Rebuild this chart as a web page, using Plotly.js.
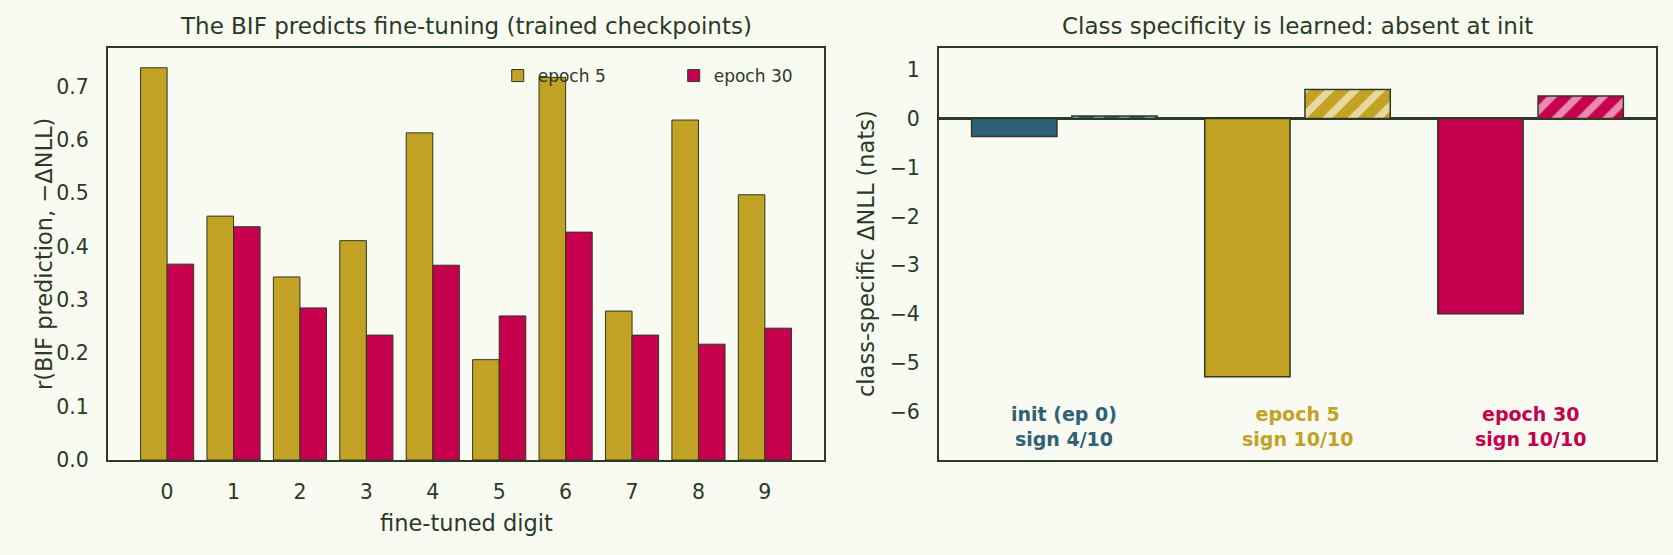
<!DOCTYPE html>
<html>
<head>
<meta charset="utf-8">
<script src="https://cdn.plot.ly/plotly-3.0.1.min.js"></script>
<style>
  html, body { margin: 0; padding: 0; background: #F9FAF1; }
  #chart { width: 1673px; height: 555px; }
</style>
</head>
<body>
<div id="chart"></div>
<script>
// ---- data ----
const digits = [0, 1, 2, 3, 4, 5, 6, 7, 8, 9];
const epoch5 = [0.735, 0.457, 0.343, 0.411, 0.613, 0.188, 0.717, 0.279, 0.637, 0.497];
const epoch30 = [0.367, 0.437, 0.285, 0.234, 0.365, 0.270, 0.427, 0.234, 0.217, 0.247];

const stages = ["init (ep 0)", "epoch 5", "epoch 30"];
const signLabels = ["sign 4/10", "sign 10/10", "sign 10/10"];
const solidValues = [-0.37, -5.28, -3.99];
const hatchedValues = [0.05, 0.59, 0.46];

// ---- style ----
const BG = "#F9FAF1";
const INK = "#2B3A27";
const EDGE = "#2A3A24";
const GOLD = "#C1A224";
const CRIMSON = "#C6004F";
const TEAL = "#2D6276";
const stageColors = [TEAL, GOLD, CRIMSON];
const stripeColors = ["#93AEB8", "#E8D8A0", "#EB8AB0"];
const FONT = "DejaVu Sans";

const traces = [
  {
    type: "bar", x: digits, y: epoch5, name: "epoch 5",
    xaxis: "x", yaxis: "y",
    marker: { color: GOLD, line: { color: EDGE, width: 1 } },
    width: 0.4, offset: -0.4,
    hoverinfo: "skip"
  },
  {
    type: "bar", x: digits, y: epoch30, name: "epoch 30",
    xaxis: "x", yaxis: "y",
    marker: { color: CRIMSON, line: { color: EDGE, width: 1 } },
    width: 0.4, offset: 0,
    hoverinfo: "skip"
  },
  {
    type: "bar", x: [0, 1, 2], y: solidValues, showlegend: false,
    xaxis: "x2", yaxis: "y2",
    marker: { color: stageColors, line: { color: EDGE, width: 1.5 } },
    width: 0.366, offset: -0.398,
    hoverinfo: "skip"
  }
];
hatchedValues.forEach((v, i) => {
  traces.push({
    type: "bar", x: [i], y: [v], showlegend: false,
    xaxis: "x2", yaxis: "y2",
    marker: {
      color: stageColors[i],
      line: { color: EDGE, width: 1.5 },
      pattern: { shape: "/", fgcolor: stripeColors[i], fgopacity: 1, size: 18, solidity: 0.4, fillmode: "overlay" }
    },
    width: 0.366, offset: 0.032,
    hoverinfo: "skip"
  });
});

const annotations = [
  { text: "The BIF predicts fine-tuning (trained checkpoints)", xref: "paper", yref: "paper",
    x: 0.2786, y: 0.954, xanchor: "center", yanchor: "middle", showarrow: false,
    font: { family: FONT, size: 23, color: INK } },
  { text: "Class specificity is learned: absent at init", xref: "paper", yref: "paper",
    x: 0.7755, y: 0.954, xanchor: "center", yanchor: "middle", showarrow: false,
    font: { family: FONT, size: 23, color: INK } },
  { text: "fine-tuned digit", xref: "paper", yref: "paper",
    x: 0.2786, y: (555 - 523) / 555, xanchor: "center", yanchor: "middle", showarrow: false,
    font: { family: FONT, size: 22.5, color: INK } },
  { text: "r(BIF prediction, −ΔNLL)", xref: "paper", yref: "paper", textangle: -90,
    x: 44 / 1673, y: (555 - 254) / 555, xanchor: "center", yanchor: "middle", showarrow: false,
    font: { family: FONT, size: 22.5, color: INK } },
  { text: "class-specific ΔNLL (nats)", xref: "paper", yref: "paper", textangle: -90,
    x: 866 / 1673, y: (555 - 254) / 555, xanchor: "center", yanchor: "middle", showarrow: false,
    font: { family: FONT, size: 22.5, color: INK } }
];
stages.forEach((s, i) => {
  annotations.push({
    text: "<b>" + s + "<br>" + signLabels[i] + "</b>", xref: "x2", yref: "y2",
    x: i, y: -6.3, xanchor: "center", yanchor: "middle", showarrow: false, align: "center",
    font: { family: FONT, size: 19, color: stageColors[i] }
  });
});

const axisCommon = {
  showline: true, mirror: true, linecolor: EDGE, linewidth: 2,
  showgrid: false, zeroline: false, ticks: "",
  tickfont: { family: FONT, size: 20.5, color: INK }
};

const layout = {
  width: 1673, height: 555,
  paper_bgcolor: BG, plot_bgcolor: BG,
  margin: { l: 0, r: 0, t: 0, b: 0 },
  font: { family: FONT, color: INK },
  barmode: "group", bargap: 0.2, bargroupgap: 0,
  showlegend: true,
  legend: {
    orientation: "h", x: 0.2975, y: (555 - 76) / 555, xanchor: "left", yanchor: "middle",
    bgcolor: "rgba(0,0,0,0)", borderwidth: 0,
    font: { family: FONT, size: 17, color: INK },
    entrywidth: 131, entrywidthmode: "pixels"
  },
  xaxis: Object.assign({}, axisCommon, {
    domain: [108 / 1673, 824 / 1673], anchor: "y",
    range: [-0.89, 9.89], tickvals: digits, ticktext: digits.map(String),
    ticklabelstandoff: 12
  }),
  yaxis: Object.assign({}, axisCommon, {
    domain: [(555 - 460) / 555, (555 - 48) / 555], anchor: "x",
    range: [0, 0.772], tickvals: [0, 0.1, 0.2, 0.3, 0.4, 0.5, 0.6, 0.7],
    ticktext: ["0.0", "0.1", "0.2", "0.3", "0.4", "0.5", "0.6", "0.7"],
    ticklabelstandoff: 13
  }),
  xaxis2: Object.assign({}, axisCommon, {
    domain: [939 / 1673, 1656 / 1673], anchor: "y2",
    range: [-0.538, 2.538], showticklabels: false
  }),
  yaxis2: Object.assign({}, axisCommon, {
    domain: [(555 - 460) / 555, (555 - 48) / 555], anchor: "x2",
    range: [-6.98, 1.44], tickvals: [-6, -5, -4, -3, -2, -1, 0, 1],
    zeroline: true, zerolinecolor: EDGE, zerolinewidth: 2.5,
    ticklabelstandoff: 13
  }),
  annotations: annotations
};

Plotly.newPlot("chart", traces, layout, { staticPlot: true, displayModeBar: false });
</script>
</body>
</html>
